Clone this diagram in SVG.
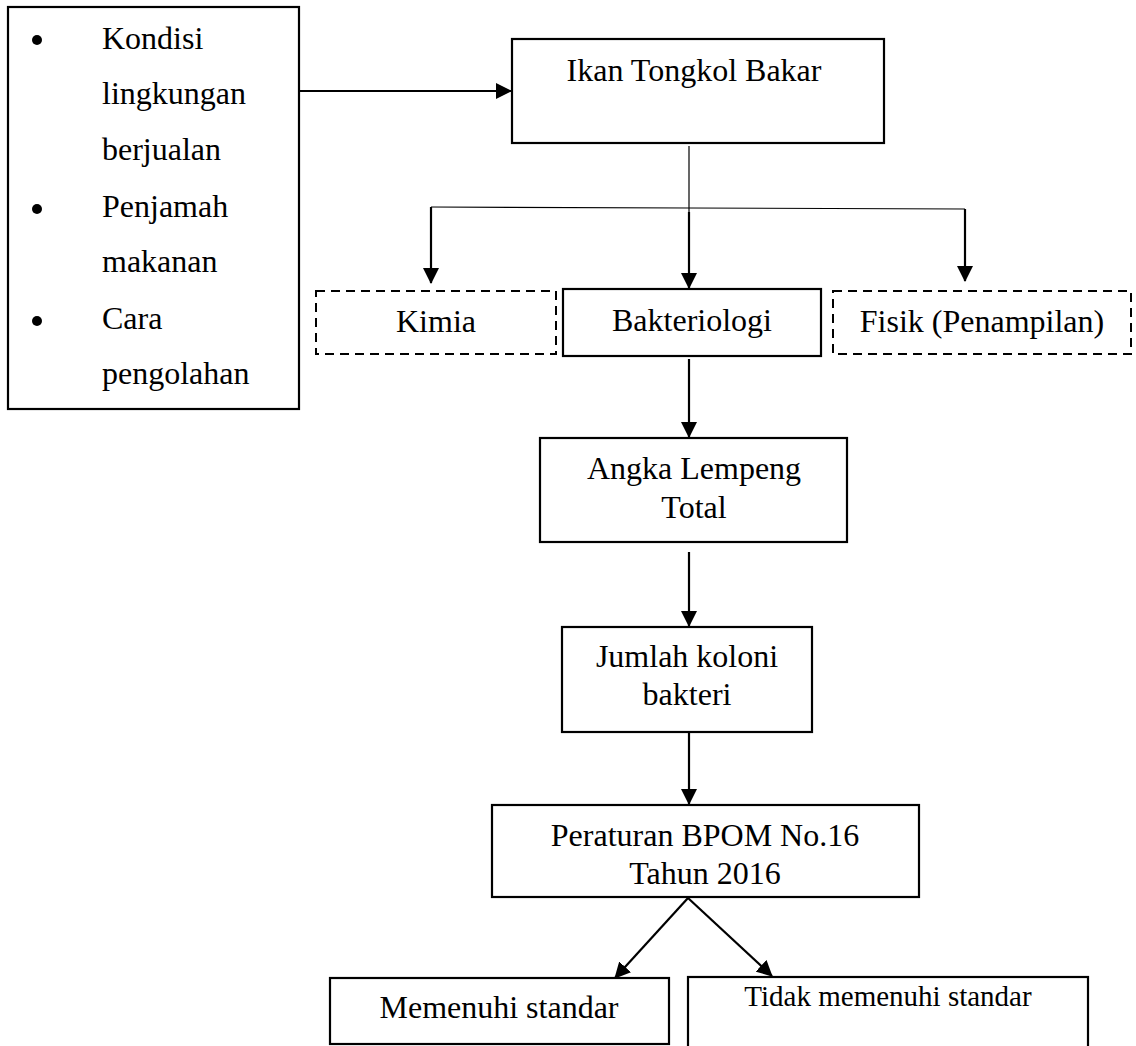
<svg xmlns="http://www.w3.org/2000/svg" width="1136" height="1046" viewBox="0 0 1136 1046">
<style>
  text { font-family: "Liberation Serif", "Times New Roman", serif; font-size: 32px; fill: #000; }
  .c { text-anchor: middle; }
  .box { fill: #fff; stroke: #000; stroke-width: 2.2; }
  .dash { fill: #fff; stroke: #000; stroke-width: 2; stroke-dasharray: 9 6; }
  .arr { stroke: #000; stroke-width: 2.2; fill: none; marker-end: url(#ah); }
  .thin { stroke: #000; stroke-width: 1.2; fill: none; }
</style>
<defs>
  <marker id="ah" markerUnits="userSpaceOnUse" markerWidth="16" markerHeight="16" viewBox="0 0 16 16" refX="15" refY="8" orient="auto">
    <path d="M0,0 L16,8 L0,16 Z" fill="#000"/>
  </marker>
</defs>
<rect width="1136" height="1046" fill="#fff"/>

<g id="connectors">
  <line class="arr" x1="299" y1="91" x2="511" y2="91"/>
  <line class="thin" x1="689" y1="146" x2="689" y2="214"/>
  <polyline class="thin" points="431,207 689,208 965,209"/>
  <line class="arr" x1="431" y1="207" x2="431" y2="283"/>
  <line class="arr" x1="689" y1="212" x2="689" y2="288"/>
  <line class="arr" x1="965" y1="209" x2="965" y2="281"/>
  <line class="arr" x1="689" y1="359" x2="689" y2="437"/>
  <line class="arr" x1="689" y1="552" x2="689" y2="626"/>
  <line class="arr" x1="689" y1="733" x2="689" y2="804"/>
  <line class="arr" x1="688" y1="898" x2="615" y2="978"/>
  <line class="arr" x1="688" y1="898" x2="772" y2="976"/>
</g>

<g id="factors">
  <rect class="box" x="8" y="7" width="291" height="402" stroke-width="1.8"/>
  <circle cx="37" cy="40" r="5"/>
  <circle cx="37" cy="209" r="5"/>
  <circle cx="37" cy="321" r="5"/>
  <text x="102" y="49">Kondisi</text>
  <text x="102" y="104">lingkungan</text>
  <text x="102" y="160">berjualan</text>
  <text x="102" y="217">Penjamah</text>
  <text x="102" y="272">makanan</text>
  <text x="102" y="329">Cara</text>
  <text x="102" y="384">pengolahan</text>
</g>

<g id="ikan">
  <rect class="box" x="512" y="39" width="372" height="104"/>
  <text class="c" x="694" y="81">Ikan Tongkol Bakar</text>
</g>

<g id="kimia">
  <rect class="dash" x="316" y="291" width="240" height="63"/>
  <text class="c" x="436" y="332">Kimia</text>
</g>

<g id="bakteriologi">
  <rect class="box" x="563" y="289" width="258" height="67"/>
  <text class="c" x="692" y="331">Bakteriologi</text>
</g>

<g id="fisik">
  <rect class="dash" x="833" y="291" width="298" height="63"/>
  <text class="c" x="982" y="332">Fisik (Penampilan)</text>
</g>

<g id="alt">
  <rect class="box" x="540" y="438" width="307" height="104"/>
  <text class="c" x="694" y="479">Angka Lempeng</text>
  <text class="c" x="694" y="518">Total</text>
</g>

<g id="jumlah">
  <rect class="box" x="562" y="627" width="250" height="105"/>
  <text class="c" x="687" y="667">Jumlah koloni</text>
  <text class="c" x="687" y="705">bakteri</text>
</g>

<g id="bpom">
  <rect class="box" x="492" y="805" width="427" height="92"/>
  <text class="c" x="705" y="846">Peraturan BPOM No.16</text>
  <text class="c" x="705" y="884">Tahun 2016</text>
</g>

<g id="memenuhi">
  <rect class="box" x="330" y="978" width="339" height="66"/>
  <text class="c" x="499" y="1018">Memenuhi standar</text>
</g>

<g id="tidak">
  <rect class="box" x="688" y="977" width="400" height="80"/>
  <text class="c" x="888" y="1006" style="font-size:29px">Tidak memenuhi standar</text>
</g>
</svg>
